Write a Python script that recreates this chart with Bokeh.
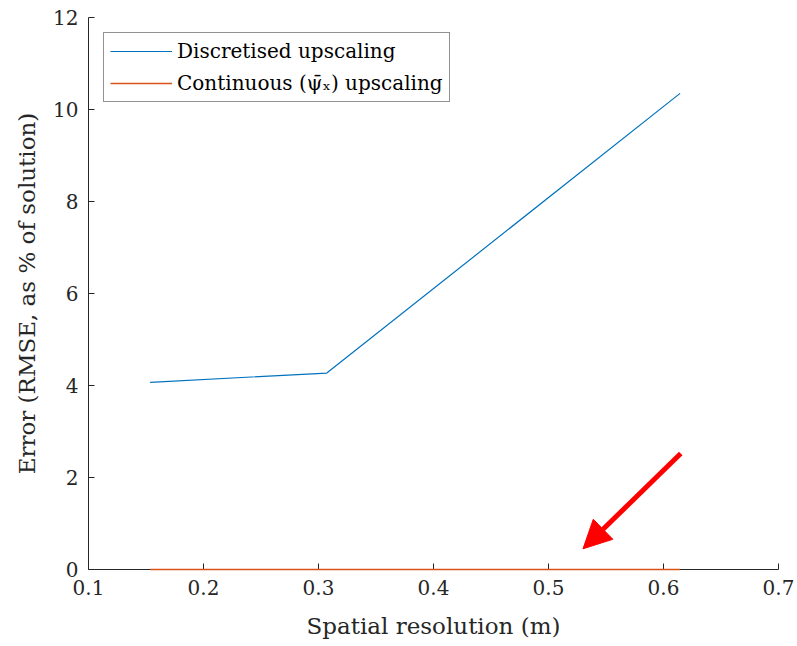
from bokeh.plotting import figure
from bokeh.models import Range1d, Arrow, NormalHead, Legend, LegendItem, FixedTicker
from bokeh.embed import file_html
from bokeh.resources import INLINE

# Data
resolution = [0.1536, 0.3072, 0.6144]
discretised = [4.07, 4.27, 10.35]
continuous = [0.0, 0.0, 0.0]
x_ticks = [0.1, 0.2, 0.3, 0.4, 0.5, 0.6, 0.7]
y_ticks = [0, 2, 4, 6, 8, 10, 12]
arrow_start = (0.615, 2.52)
arrow_end = (0.530, 0.45)

FONT = "DejaVu Serif"
AXC = "#262626"

p = figure(width=797, height=646, output_backend="svg", toolbar_location=None,
           x_range=Range1d(0.1, 0.7), y_range=Range1d(0, 12),
           min_border_left=88, min_border_right=19, min_border_top=17, min_border_bottom=77)
p.frame_width = 690
p.frame_height = 552
p.outline_line_color = None
p.grid.visible = False
p.background_fill_color = "white"
p.border_fill_color = "white"

l1 = p.line(resolution, discretised, line_color="#0072BD", line_width=1.2)
l2 = p.line(resolution, continuous, line_color="#D95319", line_width=1.5, level="overlay")

for ax, ticks in ((p.xaxis[0], x_ticks), (p.yaxis[0], y_ticks)):
    ax.ticker = FixedTicker(ticks=ticks)
    ax.axis_line_color = AXC
    ax.major_tick_line_color = AXC
    ax.major_tick_in = 6
    ax.major_tick_out = 0
    ax.minor_tick_line_color = None
    ax.major_label_text_font = FONT
    ax.major_label_text_font_size = "20px"
    ax.major_label_text_color = AXC
    ax.axis_label_text_font = FONT
    ax.axis_label_text_font_size = "23px"
    ax.axis_label_text_font_style = "normal"
    ax.axis_label_text_color = AXC

p.xaxis[0].axis_label = "Spatial resolution (m)"
p.yaxis[0].axis_label = "Error (RMSE, as % of solution)"
p.xaxis[0].major_label_standoff = 10
p.yaxis[0].major_label_standoff = 10
p.xaxis[0].axis_label_standoff = 15
p.yaxis[0].axis_label_standoff = 10

legend = Legend(items=[LegendItem(label="Discretised upscaling", renderers=[l1]),
                       LegendItem(label="Continuous (\u03c8\u0304\u2093) upscaling", renderers=[l2])],
                location="top_left", margin=15, padding=6, spacing=8,
                glyph_width=62, glyph_height=22, label_height=22,
                label_text_font=FONT, label_text_font_size="20px", label_text_color="black",
                border_line_color="#262626", border_line_width=1,
                label_standoff=5)
p.add_layout(legend)

p.add_layout(Arrow(end=NormalHead(size=28, fill_color="red", line_color="red"),
                   x_start=arrow_start[0], y_start=arrow_start[1],
                   x_end=arrow_end[0], y_end=arrow_end[1],
                   line_color="red", line_width=5))

open("out.html", "w").write(file_html(p, INLINE))
